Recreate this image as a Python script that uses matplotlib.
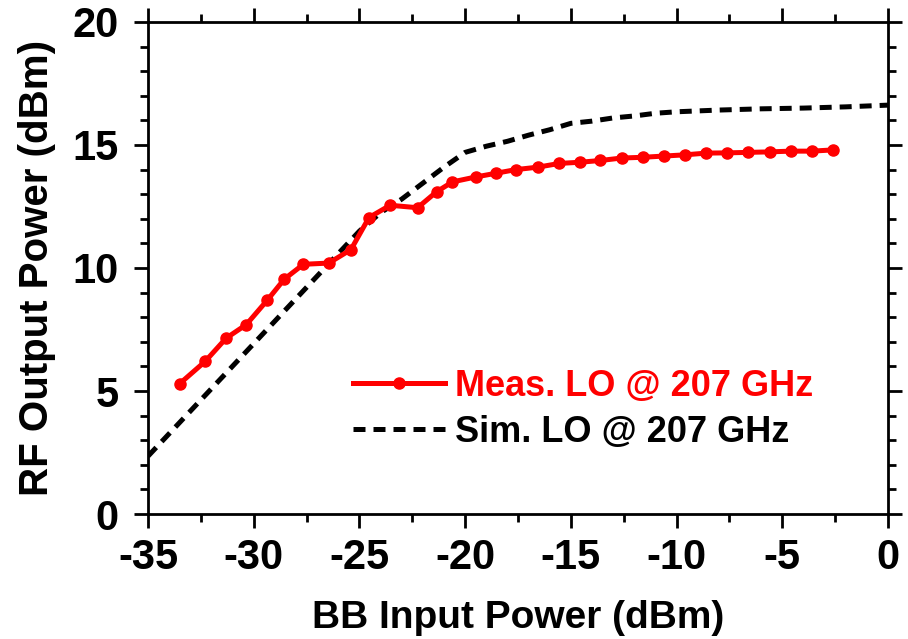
import numpy as np
import matplotlib.pyplot as plt
from matplotlib.ticker import MultipleLocator

plt.rcParams['font.family'] = ['Liberation Sans', 'DejaVu Sans']
plt.rcParams['font.weight'] = 'bold'
plt.rcParams['axes.unicode_minus'] = False

meas_x = [-33.5, -32.3, -31.3, -30.35, -29.35, -28.55, -27.65, -26.45, -25.4, -24.55,
          -23.55, -22.25, -21.35, -20.6, -19.5, -18.55, -17.6, -16.55, -15.55, -14.55,
          -13.6, -12.6, -11.6, -10.6, -9.6, -8.6, -7.6, -6.6, -5.6, -4.6, -3.6, -2.6]
meas_y = [5.3, 6.2, 7.15, 7.7, 8.7, 9.55, 10.15, 10.2, 10.75, 12.05,
          12.55, 12.45, 13.1, 13.5, 13.7, 13.85, 14.0, 14.1, 14.25, 14.3,
          14.37, 14.47, 14.5, 14.55, 14.6, 14.67, 14.68, 14.7, 14.72, 14.75, 14.75, 14.8]

# simulation
sim_x = [-35, -25, -24, -23, -22, -21, -20, -19, -18, -17, -16, -15, -14, -13, -12,
         -11, -10, -8, -6, -4, -2, 0]
sim_y = [2.35, 11.5, 12.25, 12.8, 13.45, 14.1, 14.7, 14.95, 15.15, 15.4, 15.62, 15.88,
         15.97, 16.1, 16.18, 16.29, 16.35, 16.42, 16.47, 16.5, 16.55, 16.62]

fig = plt.figure(figsize=(9.08, 6.39), dpi=100)
ax = fig.add_axes([0.163, 0.1956, 0.815, 0.77])

ax.plot(meas_x, meas_y, color='#ff0000', lw=3.6, marker='o', ms=8,
        label='Meas. LO @ 207 GHz', zorder=3)
ax.plot(sim_x, sim_y, color='black', lw=3.6, ls=(0, (2.4, 1.6)),
        label='Sim. LO @ 207 GHz', zorder=2)

ax.set_xlim(-35, 0)
ax.set_ylim(0, 20)
ax.xaxis.set_major_locator(MultipleLocator(5))
ax.xaxis.set_minor_locator(MultipleLocator(2.5))
ax.yaxis.set_major_locator(MultipleLocator(5))
ax.yaxis.set_minor_locator(MultipleLocator(1))
ax.tick_params(which='both', direction='out', top=True, right=True, width=2)
ax.tick_params(which='major', length=10, labelsize=30)
ax.tick_params(which='minor', length=6)
ax.tick_params(axis='x', which='major', pad=7)
ax.tick_params(axis='y', which='major', pad=11)
for s in ax.spines.values():
    s.set_linewidth(2)

ax.set_xlabel('BB Input Power (dBm)', fontsize=28, fontweight='bold', labelpad=16)
ax.set_ylabel('RF Output Power (dBm)', fontsize=29, fontweight='bold', labelpad=12)

leg = ax.legend(loc='upper left', bbox_to_anchor=(0.277, 0.295), frameon=False,
                fontsize=26, handlelength=2.55, handletextpad=0.28, labelspacing=0.3,
                borderpad=0, borderaxespad=0)
for t, c in zip(leg.get_texts(), ['#ff0000', 'black']):
    t.set_color(c)

plt.savefig('out.png')
